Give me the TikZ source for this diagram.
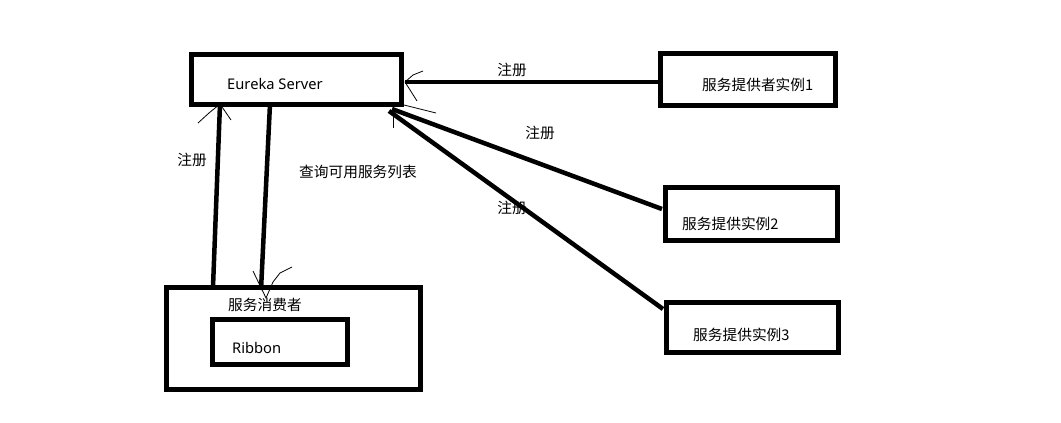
\documentclass[tikz,border=0pt]{standalone}
\usepackage{fontspec}
\setmainfont{Noto Sans CJK SC}
\newfontfamily\latfont{Noto Sans}
\begin{document}
\begin{tikzpicture}[x=1pt,y=-1pt,
  box/.style={draw=black,line width=5pt,rectangle,inner sep=0pt,fill=white},
  txt/.style={inner sep=0pt,anchor=west,font=\fontsize{14.7pt}{16pt}\selectfont},
  lbl/.style={inner sep=0pt,font=\fontsize{14.7pt}{16pt}\selectfont},
  conn/.style={line width=4.5pt},
  tip/.style={line width=0.8pt}]
\useasboundingbox[fill=white] (0,0) rectangle (1061,423);
% boxes
\node[box,minimum width=210pt,minimum height=50pt] (eureka) at (296,79) {};
\node[box,minimum width=175pt,minimum height=52pt] (p1) at (747.5,79) {};
\node[box,minimum width=172pt,minimum height=53pt] (p2) at (751,213.5) {};
\node[box,minimum width=172pt,minimum height=50pt] (p3) at (752,327) {};
\node[box,minimum width=254pt,minimum height=102pt] (cons) at (293,338) {};
\node[box,minimum width=135pt,minimum height=45pt] (ribbon) at (279.5,341.5) {};
% texts
\node[txt] (teu) at (227,84) {\latfont Eureka Server};
\node[txt] (tp1) at (702,85) {服务提供者实例1};
\node[txt] (tp2) at (682,224) {服务提供实例2};
\node[txt] (tp3) at (693,335) {服务提供实例3};
\node[txt] (tcons) at (228,305) {服务消费者};
\node[txt] (trib) at (232,348) {\latfont Ribbon};
% connector end points
\coordinate (a1) at (658,82);  \coordinate (e1) at (405,82);
\coordinate (a2) at (662,209); \coordinate (e2) at (392,109);
\coordinate (a3) at (663,309); \coordinate (e3) at (389,111);
\coordinate (a4) at (213,287); \coordinate (e4) at (220,104);
\coordinate (a5) at (270,104); \coordinate (e5) at (261,290);
\draw[conn] (a1) -- (e1);
\draw[conn] (a2) -- (e2);
\draw[conn] (a3) -- (e3);
\draw[conn] (a4) -- (e4);
\draw[conn] (a5) -- (e5);
% hand-drawn arrow heads
\draw[tip] (e1) -- ++(8,-7) -- ++(10,-4);
\draw[tip] (e1) -- ++(12,19);
\draw[tip] (e2) ++(8,-5) -- ++(36,9);
\draw[tip] (e3) ++(4,0) -- ++(0,17);
\draw[tip] (e4) -- ++(-11,9) -- ++(-11,10);
\draw[tip] (e4) -- ++(11,16);
\draw[tip] (e5) ++(-8,-19) -- ++(13,27) -- ++(7,-16) -- ++(7,-9) -- ++(12,-6);
% labels
\node[lbl] (l1) at (512,70) {注册};
\node[lbl] (l2) at (540,133) {注册};
\node[lbl] (l3) at (512,208) {注册};
\node[lbl] (l4) at (192,160) {注册};
\node[lbl] (l5) at (358,172) {查询可用服务列表};
\end{tikzpicture}
\end{document}
